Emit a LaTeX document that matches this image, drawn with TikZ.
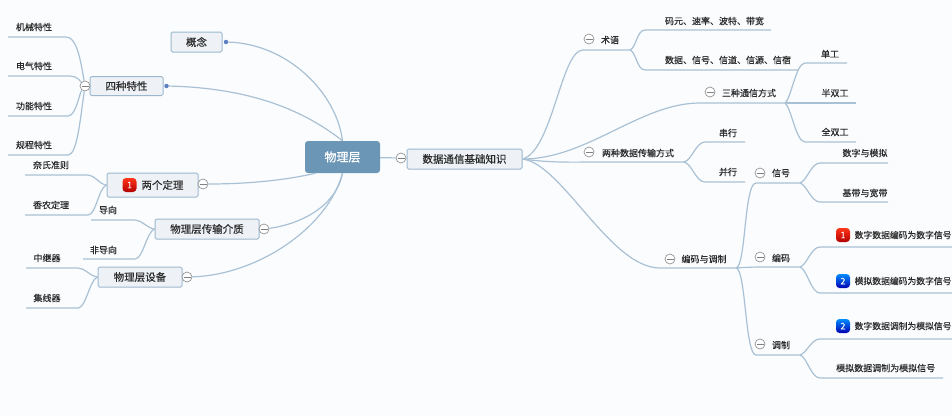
\documentclass[tikz,border=0pt]{standalone}
\usepackage{fontspec}
\setmainfont{Noto Sans CJK SC}[FakeBold=0.45]
\usetikzlibrary{shapes.geometric, arrows.meta, positioning, calc}
\definecolor{linkc}{HTML}{A9C1D4}
\definecolor{boxc}{HTML}{9DB8CE}
\definecolor{boxf}{HTML}{EEF2F7}
\definecolor{rootf}{HTML}{6C96B6}
\definecolor{inkc}{HTML}{2B2B2B}
\begin{document}
\begin{tikzpicture}[
  x=1pt, y=-1pt,
  font=\fontsize{9}{10}\selectfont,
  text=inkc,
  root/.style={rectangle, rounded corners=3pt, fill=rootf, text=white, minimum width=75pt, minimum height=32pt, inner sep=0pt, font=\fontsize{12}{13}\selectfont},
  topic/.style={rectangle, rounded corners=1.5pt, draw=boxc, line width=1pt, fill=boxf, inner sep=0pt, font=\fontsize{10.5}{12}\selectfont},
  leaf/.style={inner sep=0pt},
  wideleaf/.style={inner sep=0pt, anchor=west, font=\fontsize{8.8}{10}\selectfont},
  fold/.style={circle, draw=black!42, fill=white, line width=0.7pt, minimum size=10pt, inner sep=0pt,
    path picture={\draw[black!50, line width=0.8pt] ([xshift=1.5pt]path picture bounding box.west) -- ([xshift=-1.5pt]path picture bounding box.east);}},
  knob/.style={circle, fill=rootf!85!blue, minimum size=4.5pt, inner sep=0pt},
  badge1/.style={rectangle, rounded corners=3.5pt, top color=red!75!orange!90!white, bottom color=red!70!black, text=white, minimum size=14pt, inner sep=0pt, font=\fontsize{9}{9}\selectfont\itshape},
  badge2/.style={rectangle, rounded corners=3.5pt, top color=blue!45!cyan, bottom color=blue!70!black, text=white, minimum size=14pt, inner sep=0pt, font=\fontsize{9}{9}\selectfont\itshape},
  link/.style={draw=linkc, line width=1.2pt},
]
\useasboundingbox[fill={rgb,255:red,251;green,252;blue,254}] (0,0) rectangle (952,416);
% centre
\node[root] (wuli) at (342.5,157) {物理层};
\node[topic, minimum width=115pt, minimum height=20pt] (jichu) at (464.5,159) {数据通信基础知识};
\node[fold] (f0) at (401,158) {};
% left side
\node[topic, minimum width=51pt, minimum height=20pt] (gainian) at (196.5,42) {概念};
\node[knob] (k1) at (226,42) {};
\node[topic, minimum width=73pt, minimum height=19pt] (sizhong) at (126.5,86) {四种特性};
\node[knob] (k2) at (166.5,86) {};
\node[fold] (f1) at (85,86) {};
\node[topic, minimum width=91pt, minimum height=24pt] (liangge) at (152.5,185) {\hspace*{20pt}两个定理};
\node[badge1] (b1) at (129.5,185) {1};
\node[fold] (f2) at (203,184) {};
\node[topic, minimum width=104pt, minimum height=20pt] (jiezhi) at (207,229) {物理层传输介质};
\node[fold] (f3) at (264,229) {};
\node[topic, minimum width=84pt, minimum height=20pt] (shebei) at (140,277) {物理层设备};
\node[fold] (f4) at (187,277) {};
\node[leaf] (jixie) at (34,27) {机械特性};
\node[leaf] (dianqi) at (34,66) {电气特性};
\node[leaf] (gongneng) at (34,106) {功能特性};
\node[leaf] (guicheng) at (34,145) {规程特性};
\node[leaf] (naishi) at (51,165) {奈氏准则};
\node[leaf] (xiangnong) at (51,205) {香农定理};
\node[leaf] (daoxiang) at (108,210) {导向};
\node[leaf] (feidao) at (103.5,250) {非导向};
\node[leaf] (zhongji) at (47,258) {中继器};
\node[leaf] (jixian) at (47,298) {集线器};
\coordinate (jixieL) at (8,37);
\coordinate (dianqiL) at (8,76);
\coordinate (gongnengL) at (8,116);
\coordinate (guichengL) at (8,155);
\coordinate (naishiL) at (25,175);
\coordinate (xiangnongL) at (25,215);
\coordinate (daoxiangL) at (91,220);
\coordinate (feidaoL) at (83,259);
\coordinate (zhongjiL) at (26,268);
\coordinate (jixianL) at (26,308);
% right side
\node[leaf] (shuyu) at (610,40) {术语};
\node[fold] (f5) at (589,39) {};
\node[leaf] (mayuan) at (714.5,21) {码元、速率、波特、带宽};
\node[leaf] (shuju) at (728,60) {数据、信号、信道、信源、信宿};
\node[leaf] (sanzhong) at (749,93) {三种通信方式};
\node[fold] (f6) at (710,92) {};
\node[leaf] (dangong) at (830,54) {单工};
\node[leaf] (banshuang) at (835,93) {半双工};
\node[leaf] (quanshuang) at (835,132) {全双工};
\node[leaf] (liangzhong) at (638,153) {两种数据传输方式};
\node[fold] (f7) at (589,152) {};
\node[leaf] (chuanxing) at (728,133) {串行};
\node[leaf] (bingxing) at (728,172) {并行};
\node[leaf] (bianma) at (704,259) {编码与调制};
\node[fold] (f8) at (670,259) {};
\node[leaf] (xinhao) at (781,173) {信号};
\node[fold] (f9) at (760,173) {};
\node[leaf] (shuzi) at (865,153) {数字与模拟};
\node[leaf] (jidai) at (865,193) {基带与宽带};
\node[leaf] (bianmaB) at (781,258) {编码};
\node[fold] (f10) at (760,257) {};
\node[badge1] (b2) at (843,235) {1};
\node[wideleaf] (shushu) at (854.5,235) {数字数据编码为数字信号};
\node[badge2] (b3) at (843,281) {2};
\node[wideleaf] (moshu) at (854.5,281) {模拟数据编码为数字信号};
\node[leaf] (tiaozhi) at (781,345) {调制};
\node[fold] (f11) at (760,344) {};
\node[badge2] (b4) at (843,326) {2};
\node[wideleaf] (shumo) at (854.5,326) {数字数据调制为模拟信号};
\node[leaf, anchor=west] (momo) at (836,368) {模拟数据调制为模拟信号};
\coordinate (hub1) at (630,50);
\coordinate (hub2) at (785,103);
\coordinate (hub3) at (684,162);
\coordinate (hub4) at (736,268);
\coordinate (hub5) at (800,183);
\coordinate (hub6) at (800,267);
\coordinate (hub7) at (800,355);
\coordinate (mayuanR) at (771,30);
\coordinate (shujuR) at (798,70);
\coordinate (dangongR) at (847,63);
\coordinate (banshuangR) at (856,103);
\coordinate (quanshuangR) at (856,142);
\coordinate (chuanxingR) at (745,142);
\coordinate (bingxingR) at (745,182);
\coordinate (shuziR) at (888,163);
\coordinate (jidaiR) at (888,202);
\coordinate (shushuR) at (952,247);
\coordinate (moshuR) at (952,293);
\coordinate (shumoR) at (952,339);
\coordinate (momoR) at (943,378);
% links to the centre
\draw[link] (wuli) -- (f0);
\draw[link] (k1) .. controls +(62,2) and +(-6,-48) .. (wuli.north);
\draw[link] (k2) .. controls +(85,2) and +(-38,-30) .. (wuli.north);
\draw[link] (f2) .. controls +(45,0) and +(-30,7) .. ([xshift=-27pt]wuli.south);
\draw[link] (f3) .. controls +(38,-5) and +(-6,32) .. (wuli.south);
\draw[link] (f4) .. controls +(70,-2) and +(-15,55) .. (wuli.south);
% left leaves
\draw[link] (f1) .. controls +(-5,-30) and +(10,0) .. ([xshift=58pt]jixieL) -- (jixieL);
\draw[link] (f1) .. controls +(-5,-5) and +(7,0) .. ([xshift=62pt]dianqiL) -- (dianqiL);
\draw[link] (f1) .. controls +(-6,8) and +(8,0) .. ([xshift=60pt]gongnengL) -- (gongnengL);
\draw[link] (f1) .. controls +(-5,35) and +(9,0) .. ([xshift=60pt]guichengL) -- (guichengL);
\draw[link] (liangge.west) .. controls +(-8,-1) and +(7,0) .. ([xshift=63pt]naishiL) -- (naishiL);
\draw[link] (liangge.west) .. controls +(-8,3) and +(8,0) .. ([xshift=63pt]xiangnongL) -- (xiangnongL);
\draw[link] (jiezhi.west) .. controls +(-8,-1) and +(7,0) .. ([xshift=44pt]daoxiangL) -- (daoxiangL);
\draw[link] (jiezhi.west) .. controls +(-8,3) and +(8,0) .. ([xshift=52pt]feidaoL) -- (feidaoL);
\draw[link] (shebei.west) .. controls +(-8,-1) and +(7,0) .. ([xshift=52pt]zhongjiL) -- (zhongjiL);
\draw[link] (shebei.west) .. controls +(-8,3) and +(8,0) .. ([xshift=52pt]jixianL) -- (jixianL);
% right branches
\draw[link] (jichu.east) .. controls +(30,-8) and +(-22,0) .. ([xshift=-47pt]hub1) -- (hub1);
\draw[link] (jichu.east) .. controls +(65,0) and +(-60,0) .. ([xshift=-85pt]hub2) -- (hub2);
\draw[link] (jichu.east) .. controls +(30,4) and +(-30,0) .. ([xshift=-84pt]hub3) -- (hub3);
\draw[link] (jichu.east) .. controls +(40,5) and +(-50,0) .. ([xshift=-76pt]hub4) -- (hub4);
\draw[link] (hub1) .. controls +(6,-2) and +(-8,0) .. ([xshift=-126pt]mayuanR) -- (mayuanR);
\draw[link] (hub1) .. controls +(6,2) and +(-8,0) .. ([xshift=-153pt]shujuR) -- (shujuR);
\draw[link] (hub2) .. controls +(6,-4) and +(-9,0) .. ([xshift=-42pt]dangongR) -- (dangongR);
\draw[link] (hub2) -- (banshuangR);
\draw[link] (hub2) .. controls +(6,4) and +(-9,0) .. ([xshift=-51pt]quanshuangR) -- (quanshuangR);
\draw[link] (hub3) .. controls +(8,-2) and +(-9,0) .. ([xshift=-40pt]chuanxingR) -- (chuanxingR);
\draw[link] (hub3) .. controls +(8,2) and +(-9,0) .. ([xshift=-40pt]bingxingR) -- (bingxingR);
\draw[link] (hub4) .. controls +(10,-1) and +(-12,0) .. ([xshift=-44pt]hub5) -- (hub5);
\draw[link] (hub4) .. controls +(14,-1) and +(-14,0) .. ([xshift=-30pt]hub6) -- (hub6);
\draw[link] (hub4) .. controls +(10,1) and +(-11,0) .. ([xshift=-44pt]hub7) -- (hub7);
\draw[link] (hub5) .. controls +(7,-2) and +(-9,0) .. ([xshift=-68pt]shuziR) -- (shuziR);
\draw[link] (hub5) .. controls +(7,2) and +(-9,0) .. ([xshift=-68pt]jidaiR) -- (jidaiR);
\draw[link] (hub6) .. controls +(7,-2) and +(-9,0) .. ([xshift=-132pt]shushuR) -- (shushuR);
\draw[link] (hub6) .. controls +(7,2) and +(-9,0) .. ([xshift=-132pt]moshuR) -- (moshuR);
\draw[link] (hub7) .. controls +(7,-2) and +(-9,0) .. ([xshift=-132pt]shumoR) -- (shumoR);
\draw[link] (hub7) .. controls +(7,2) and +(-9,0) .. ([xshift=-123pt]momoR) -- (momoR);
\end{tikzpicture}
\end{document}
